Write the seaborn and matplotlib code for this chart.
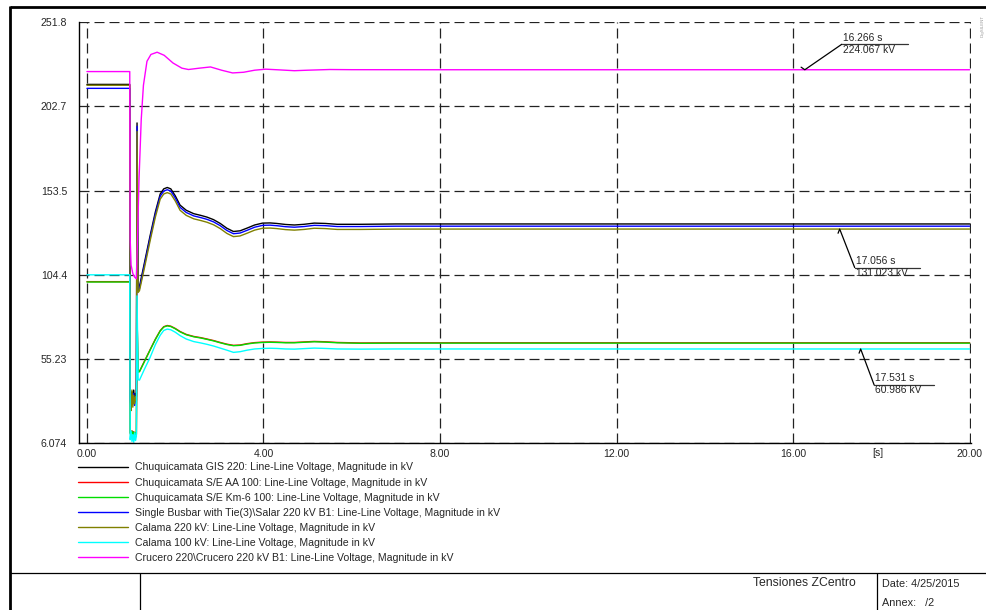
import numpy as np
import pandas as pd
import matplotlib
matplotlib.use("Agg")
import matplotlib.pyplot as plt
from matplotlib.lines import Line2D
from matplotlib.transforms import IdentityTransform
import seaborn as sns

# ---------------------------------------------------------------- data
names = [
    "Chuquicamata GIS 220: Line-Line Voltage, Magnitude in kV",
    "Chuquicamata S/E AA 100: Line-Line Voltage, Magnitude in kV",
    "Chuquicamata S/E Km-6 100: Line-Line Voltage, Magnitude in kV",
    "Single Busbar with Tie(3)\\Salar 220 kV B1: Line-Line Voltage, Magnitude in kV",
    "Calama 220 kV: Line-Line Voltage, Magnitude in kV",
    "Calama 100 kV: Line-Line Voltage, Magnitude in kV",
    "Crucero 220\\Crucero 220 kV B1: Line-Line Voltage, Magnitude in kV",
]
colors = ["#000000", "#ff0000", "#00dd00", "#0000ff", "#808000", "#00ffff", "#ff00ff"]

# time base shared by the 220 kV and 100 kV busbars [s]
t_bus = [0.00, 0.97, 0.98, 1.00, 1.02, 1.04, 1.06, 1.08, 1.10, 1.12, 1.135, 1.16,
         1.19, 1.30, 1.43, 1.55, 1.66, 1.74, 1.82, 1.90, 2.00, 2.11, 2.25, 2.42,
         2.58, 2.72, 2.87, 3.02, 3.17, 3.32, 3.47, 3.63, 3.80, 3.98, 4.15, 4.30,
         4.50, 4.70, 4.92, 5.15, 5.40, 5.67, 6.20, 7.00, 9.00, 12.00, 16.00, 20.00]

v_gis220 = [215.5, 215.5, 34.0, 29.0, 36.0, 31.0, 37.0, 30.0, 35.0, 33.0, 193.0, 96.0,
            97.5, 111.0, 127.0, 141.0, 151.5, 154.5, 155.3, 154.5, 150.5, 145.0, 142.0, 140.0,
            139.0, 138.0, 136.5, 134.3, 131.5, 129.6, 130.0, 131.6, 133.4, 134.5, 134.6, 134.3,
            133.7, 133.4, 133.8, 134.5, 134.3, 133.8, 133.8, 134.0, 134.0, 134.0, 134.0, 134.0]

v_aa100 = [100.3, 100.3, 12.2, 10.2, 13.2, 11.2, 12.7, 10.7, 12.2, 11.2, 80.2, 47.7,
           47.9, 53.7, 60.5, 66.7, 71.7, 74.0, 74.7, 74.3, 73.0, 71.2, 69.5, 68.3,
           67.6, 66.8, 65.9, 64.8, 63.8, 63.1, 63.3, 64.1, 64.7, 65.0, 65.1, 65.0,
           64.8, 64.8, 65.1, 65.4, 65.2, 64.8, 64.5, 64.6, 64.6, 64.6, 64.6, 64.6]

v_km6100 = [100.1, 100.1, 12.0, 10.0, 13.0, 11.0, 12.5, 10.5, 12.0, 11.0, 80.0, 47.5,
            47.7, 53.5, 60.3, 66.5, 71.5, 73.8, 74.5, 74.1, 72.8, 71.0, 69.3, 68.1,
            67.4, 66.6, 65.7, 64.6, 63.6, 62.9, 63.1, 63.9, 64.5, 64.8, 64.9, 64.8,
            64.6, 64.6, 64.9, 65.2, 65.0, 64.6, 64.3, 64.4, 64.4, 64.4, 64.4, 64.4]

v_salar220 = [213.2, 213.2, 32.0, 27.0, 34.0, 29.0, 35.0, 28.0, 33.0, 31.0, 191.0, 95.0,
              96.3, 109.7, 125.7, 139.7, 150.2, 153.2, 154.0, 153.2, 149.2, 143.7, 140.7, 138.7,
              137.7, 136.7, 135.2, 133.0, 130.2, 128.3, 128.7, 130.3, 132.1, 133.2, 133.3, 133.0,
              132.4, 132.1, 132.5, 133.2, 133.0, 132.5, 132.5, 132.7, 132.7, 132.7, 132.7, 132.7]

v_calama220 = [215.0, 215.0, 30.0, 25.0, 37.0, 27.0, 34.0, 29.0, 33.0, 31.0, 188.0, 94.0,
               95.0, 108.0, 124.0, 138.0, 148.5, 151.5, 152.3, 151.5, 147.5, 142.0, 139.0, 137.0,
               136.0, 135.0, 133.5, 131.3, 128.5, 126.6, 127.0, 128.6, 130.4, 131.5, 131.6, 131.3,
               130.7, 130.4, 130.8, 131.5, 131.3, 130.8, 130.8, 131.0, 131.023, 131.023, 131.023, 131.023]

v_calama100 = [104.3, 104.3, 8.0, 13.0, 7.0, 11.0, 6.5, 12.0, 7.5, 10.0, 92.0, 43.0,
               42.8, 49.0, 56.0, 63.5, 69.0, 71.8, 72.6, 72.2, 70.8, 68.8, 66.8, 65.3,
               64.5, 63.7, 62.7, 61.5, 60.3, 59.0, 59.4, 60.3, 61.0, 61.3, 61.4, 61.3,
               61.0, 60.9, 61.2, 61.5, 61.3, 61.0, 60.9, 61.0, 60.986, 60.986, 60.986, 60.986]

# Crucero 220 kV has its own time base [s]
t_crucero = [0.00, 0.97, 0.98, 1.00, 1.04, 1.08, 1.12, 1.14, 1.18, 1.23, 1.28, 1.36,
             1.45, 1.59, 1.75, 1.95, 2.15, 2.30, 2.55, 2.80, 3.05, 3.30, 3.55, 3.80,
             4.05, 4.35, 4.70, 5.00, 5.50, 6.00, 8.00, 12.00, 16.00, 20.00]
v_crucero = [223.0, 223.0, 125.0, 110.0, 105.0, 103.0, 102.0, 120.0, 160.0, 195.0, 215.0, 229.0,
             233.0, 234.3, 232.5, 228.0, 225.0, 224.2, 225.0, 225.7, 223.8, 222.2, 222.6, 223.8,
             224.4, 224.0, 223.5, 223.8, 224.2, 224.1, 224.067, 224.067, 224.067, 224.067]

# cursor read-outs (time [s], voltage [kV])
cursor_times = [16.266, 17.056, 17.531]
cursor_values = [224.067, 131.023, 60.986]

x_ticks = [0, 4, 8, 12, 16, 20]
x_tick_labels = ["0.00", "4.00", "8.00", "12.00", "16.00", "20.00"]
y_ticks = [6.074, 55.23, 104.4, 153.5, 202.7, 251.8]
y_tick_labels = ["6.074", "55.23", "104.4", "153.5", "202.7", "251.8"]

# ---------------------------------------------------------------- frame
sns.set_style("white")
plt.rcParams["font.family"] = ["Liberation Sans", "DejaVu Sans"]

W, H = 986, 610
fig = plt.figure(figsize=(W / 100, H / 100), dpi=100)
ax = fig.add_axes([79 / W, 1 - 443 / H, (970.5 - 79) / W, (443 - 22) / H])

series_t = [t_bus, t_bus, t_bus, t_bus, t_bus, t_bus, t_crucero]
series_v = [v_gis220, v_aa100, v_km6100, v_salar220, v_calama220, v_calama100, v_crucero]
df = pd.concat(
    [pd.DataFrame({"t": t, "kV": v, "bus": n}) for n, t, v in zip(names, series_t, series_v)],
    ignore_index=True,
)

sns.lineplot(data=df, x="t", y="kV", hue="bus", hue_order=names,
             palette=dict(zip(names, colors)), estimator=None, sort=False,
             linewidth=1.0, legend=False, ax=ax)

ax.set_xlim(-0.18, 20.02)
ax.set_ylim(6.074, 251.95)
ax.set_xlabel("")
ax.set_ylabel("")
ax.set_xticks(x_ticks)
ax.set_xticklabels(x_tick_labels)
ax.set_yticks(y_ticks)
ax.set_yticklabels(y_tick_labels)
ax.set_xticks([2, 6, 10, 14, 18], minor=True)
ax.set_yticks([(a + b) / 2 for a, b in zip(y_ticks[:-1], y_ticks[1:])], minor=True)

for side in ("top", "right"):
    ax.spines[side].set_visible(False)
for side in ("left", "bottom"):
    ax.spines[side].set_color("black")
    ax.spines[side].set_linewidth(1.0)

ax.grid(True, which="major", color="#222222", linestyle=(0, (8, 4)), linewidth=0.9)
ax.tick_params(axis="x", which="major", direction="out", length=2.2, width=0.8,
               labelsize=7.6, pad=2.2, color="black")
ax.tick_params(axis="y", which="major", direction="out", length=1.5, width=0.8,
               labelsize=7.6, pad=7.0, color="black")
ax.tick_params(axis="x", which="minor", direction="in", length=2.2, width=0.8, color="black")
ax.tick_params(axis="y", which="minor", direction="inout", length=3.0, width=0.8, color="black")

ax.text(17.92, -0.024, "[s]", transform=ax.get_xaxis_transform(),
        ha="center", va="center", fontsize=7.6)

# ---------------------------------------------------------------- cursor labels
ident = IdentityTransform()


def cursor_label(t, v, dx, dy, width):
    x0, y0 = ax.transData.transform((t, v))
    x1, y1 = x0 + dx, y0 + dy
    d = np.hypot(dx, dy)
    bx, by = -dx / d * 4.5, dy / d * 4.5
    fig.add_artist(Line2D([x0 + bx, x0, x1], [y0 + by, y0, y1], transform=ident,
                          color="black", lw=0.9))
    fig.add_artist(Line2D([x1, x1 + width], [y1, y1], transform=ident,
                          color="#333333", lw=0.9))
    fig.text(x1 + 1, y1 + 1.5, f"{t:.3f} s", transform=ident, ha="left", va="bottom",
             fontsize=7.4)
    fig.text(x1 + 1, y1 - 0.5, f"{v:.3f} kV", transform=ident, ha="left", va="top",
             fontsize=7.4)


cursor_label(cursor_times[0], cursor_values[0], 37, 25.5, 66)
cursor_label(cursor_times[1], cursor_values[1], 15, -38.5, 65)
cursor_label(cursor_times[2], cursor_values[2], 13.5, -36, 60)

# ---------------------------------------------------------------- legend
handles = [Line2D([], [], color=c, lw=1.0) for c in colors]
fig.legend(handles, names, loc="upper left", bbox_to_anchor=(78 / W, 1 - 462.5 / H),
           frameon=False, fontsize=7.6, handlelength=4.75, handletextpad=0.66,
           labelspacing=0.48, borderpad=0, borderaxespad=0)

# ---------------------------------------------------------------- sheet border and title block
def sheet_line(xs, ys, lw):
    fig.add_artist(Line2D([x / W for x in xs], [1 - y / H for y in ys],
                          transform=fig.transFigure, color="black", lw=lw,
                          solid_capstyle="butt"))


sheet_line([10, 986], [7, 7], 2.0)
sheet_line([10, 10], [6, 610], 2.0)
sheet_line([10, 986], [573, 573], 0.9)
sheet_line([140, 140], [573, 610], 0.9)
sheet_line([877, 877], [573, 610], 0.9)

fig.text(804 / W, 1 - 583 / H, "Tensiones ZCentro", ha="center", va="center", fontsize=8.8)
fig.text(882 / W, 1 - 584 / H, "Date: 4/25/2015", ha="left", va="center", fontsize=7.8)
fig.text(882 / W, 1 - 603 / H, "Annex:   /2", ha="left", va="center", fontsize=7.8)
fig.text(983 / W, 1 - 26 / H, "DIgSILENT", ha="center", va="center", fontsize=3.2,
         rotation=90, color="#999999")

fig.savefig("out.png", dpi=100)
